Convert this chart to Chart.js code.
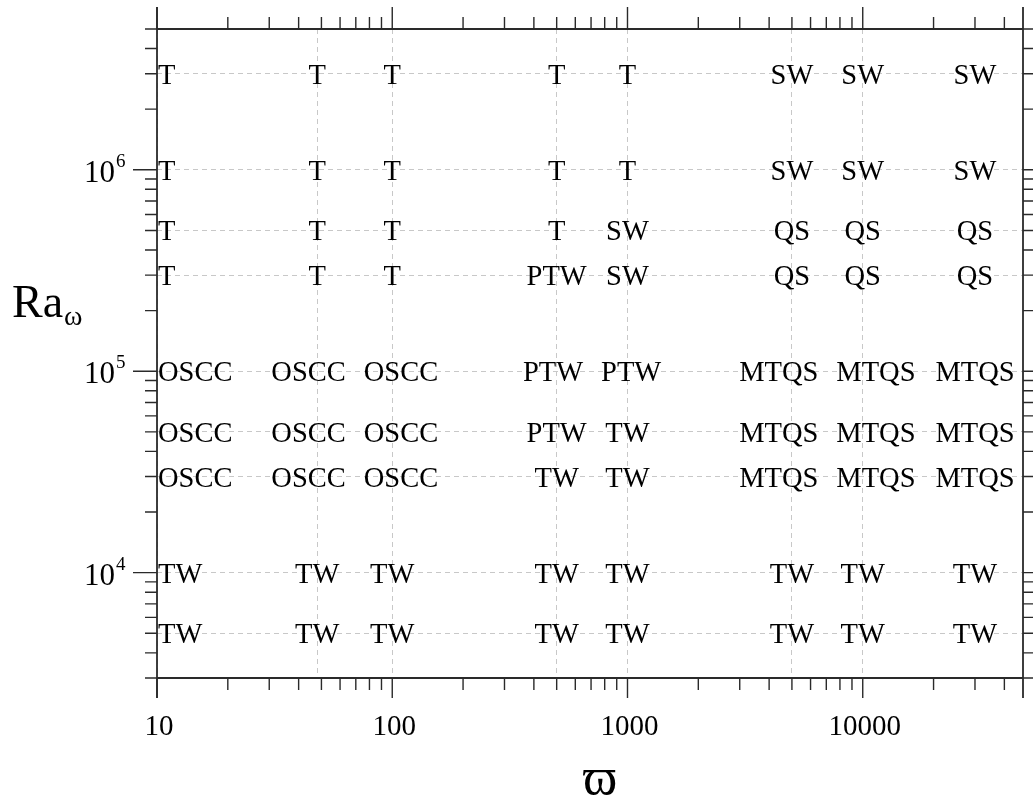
<!DOCTYPE html>
<html lang="en">
<head>
<meta charset="UTF-8">
<title>Flow regimes in the (omega, Ra) plane</title>
<script src="https://cdn.jsdelivr.net/npm/chart.js"></script>
<style>
  html, body { margin: 0; padding: 0; background: #fff; }
  canvas { display: block; }
</style>
</head>
<body>
<canvas id="regimeChart" width="1033" height="798"></canvas>
<script>
// forcing frequency columns and Rayleigh number rows
const omegaValues = [10, 48, 100, 500, 1000, 5000, 10000, 30000];
const raValues = [3e6, 1e6, 5e5, 3e5, 1e5, 5e4, 3e4, 1e4, 5e3];
const regimeRows = [
  ['T', 'T', 'T', 'T', 'T', 'SW', 'SW', 'SW'],
  ['T', 'T', 'T', 'T', 'T', 'SW', 'SW', 'SW'],
  ['T', 'T', 'T', 'T', 'SW', 'QS', 'QS', 'QS'],
  ['T', 'T', 'T', 'PTW', 'SW', 'QS', 'QS', 'QS'],
  ['OSCC', 'OSCC', 'OSCC', 'PTW', 'PTW', 'MTQS', 'MTQS', 'MTQS'],
  ['OSCC', 'OSCC', 'OSCC', 'PTW', 'TW', 'MTQS', 'MTQS', 'MTQS'],
  ['OSCC', 'OSCC', 'OSCC', 'TW', 'TW', 'MTQS', 'MTQS', 'MTQS'],
  ['TW', 'TW', 'TW', 'TW', 'TW', 'TW', 'TW', 'TW'],
  ['TW', 'TW', 'TW', 'TW', 'TW', 'TW', 'TW', 'TW']
];
const omegaGrid = [10, 48, 100, 500, 1000, 5000, 10000];
const raGrid = [5e3, 1e4, 3e4, 5e4, 1e5, 3e5, 5e5, 1e6, 3e6];
const omegaTickLabels = [10, 100, 1000, 10000];
const raTickLabels = [1e4, 1e5, 1e6];
const omegaRange = [10, 48000];
const raRange = [3000, 5e6];

const SERIF = '"Liberation Serif", "DejaVu Serif", serif';

const points = [];
raValues.forEach((ra, r) => {
  omegaValues.forEach((om, c) => {
    points.push({ x: om, y: ra, row: r, label: regimeRows[r][c] });
  });
});

// all 1..9 x 10^n values inside a range, for the axis tick marks
function logTicks(min, max) {
  const out = [];
  for (let e = Math.floor(Math.log10(min)); e <= Math.ceil(Math.log10(max)); e++) {
    for (let m = 1; m <= 9; m++) {
      const v = m * Math.pow(10, e);
      if (v >= min * 0.999 && v <= max * 1.001) out.push({ v: v, major: m === 1 });
    }
  }
  return out;
}

const regimeText = {
  id: 'regimeText',
  afterDatasetsDraw(chart) {
    const ctx = chart.ctx;
    const meta = chart.getDatasetMeta(0);
    const gap = 18;
    ctx.save();
    ctx.fillStyle = '#000';
    ctx.font = '28.5px ' + SERIF;
    ctx.textBaseline = 'alphabetic';
    ctx.textAlign = 'left';

    // label boxes per row; first column sits against the axis
    const rows = raValues.map(() => []);
    meta.data.forEach((el, i) => {
      const p = points[i];
      const w = ctx.measureText(p.label).width;
      const pinned = p.x === omegaRange[0];
      const left = pinned ? el.x + 1 : el.x - w / 2;
      rows[p.row].push({ label: p.label, left: left, w: w, y: el.y, pinned: pinned });
    });

    // push neighbours apart where wide labels would collide
    rows.forEach(row => {
      for (let k = 0; k < row.length - 1; k++) {
        const a = row[k], b = row[k + 1];
        const need = a.left + a.w + gap - b.left;
        if (need > 0) {
          if (a.pinned) { b.left += need; }
          else { a.left -= need / 2; b.left += need / 2; }
        }
      }
      row.forEach(b => ctx.fillText(b.label, b.left, b.y + 10));
    });
    ctx.restore();
  }
};

const frame = {
  id: 'frame',
  afterDraw(chart) {
    const ctx = chart.ctx;
    const xs = chart.scales.x, ys = chart.scales.y;
    const a = chart.chartArea;
    const minorLen = 12, majorLen = 22;
    ctx.save();
    ctx.strokeStyle = '#2a2a2a';
    ctx.lineWidth = 1.8;

    // vertical axis lines run a little past the frame
    ctx.beginPath();
    ctx.moveTo(a.left, a.top - majorLen); ctx.lineTo(a.left, a.bottom + majorLen - 2);
    ctx.moveTo(a.right, a.top - majorLen); ctx.lineTo(a.right, a.bottom + majorLen - 2);
    ctx.moveTo(a.left, a.top); ctx.lineTo(a.right, a.top);
    ctx.moveTo(a.left, a.bottom); ctx.lineTo(a.right, a.bottom);
    ctx.stroke();

    ctx.lineWidth = 1.4;
    ctx.beginPath();
    logTicks(omegaRange[0], omegaRange[1]).forEach(t => {
      const px = xs.getPixelForValue(t.v);
      const len = t.major ? majorLen : minorLen;
      ctx.moveTo(px, a.bottom); ctx.lineTo(px, a.bottom + len - (t.major ? 2 : 0));
      ctx.moveTo(px, a.top); ctx.lineTo(px, a.top - len);
    });
    logTicks(raRange[0], raRange[1]).forEach(t => {
      const py = ys.getPixelForValue(t.v);
      const len = t.major ? majorLen + 2 : minorLen;
      ctx.moveTo(a.left, py); ctx.lineTo(a.left - len, py);
      ctx.moveTo(a.right, py); ctx.lineTo(a.right + len, py);
    });
    ctx.stroke();

    // tick labels
    ctx.fillStyle = '#000';
    ctx.font = '29px ' + SERIF;
    ctx.textAlign = 'center';
    ctx.textBaseline = 'alphabetic';
    omegaTickLabels.forEach(v => {
      ctx.fillText(String(v), xs.getPixelForValue(v) + 2, a.bottom + 57);
    });
    raTickLabels.forEach(v => {
      const py = ys.getPixelForValue(v);
      const exp = Math.round(Math.log10(v));
      ctx.textAlign = 'right';
      ctx.font = '31px ' + SERIF;
      ctx.fillText('10', a.left - 42, py + 12);
      ctx.textAlign = 'left';
      ctx.font = '19px ' + SERIF;
      ctx.fillText(String(exp), a.left - 41, py - 3);
    });

    // axis titles
    ctx.textAlign = 'left';
    ctx.font = '46px ' + SERIF;
    ctx.fillText('Ra', 12, 317);
    const raW = ctx.measureText('Ra').width;
    ctx.font = '28px ' + SERIF;
    ctx.fillText('\u03C9', 12 + raW + 1, 325);

    ctx.textAlign = 'center';
    ctx.font = '52px ' + SERIF;
    ctx.fillText('\u03D6', 600, 794);
    ctx.restore();
  }
};

new Chart(document.getElementById('regimeChart'), {
  type: 'scatter',
  data: {
    datasets: [{
      data: points,
      pointRadius: 0,
      pointHoverRadius: 0,
      showLine: false
    }]
  },
  options: {
    responsive: false,
    animation: false,
    layout: { padding: { top: 29, right: 10, left: 0, bottom: 0 } },
    plugins: { legend: { display: false }, tooltip: { enabled: false } },
    scales: {
      x: {
        type: 'logarithmic',
        position: 'bottom',
        min: omegaRange[0],
        max: omegaRange[1],
        afterBuildTicks: s => { s.ticks = omegaGrid.map(v => ({ value: v })); },
        afterFit: s => { s.height = 120; },
        ticks: { display: false },
        grid: { color: '#c8c8c8', lineWidth: 1, drawTicks: false, borderDash: [5, 4] },
        border: { display: false, dash: [5, 4] }
      },
      y: {
        type: 'logarithmic',
        position: 'left',
        min: raRange[0],
        max: raRange[1],
        afterBuildTicks: s => { s.ticks = raGrid.map(v => ({ value: v })); },
        afterFit: s => { s.width = 157; },
        ticks: { display: false },
        grid: { color: '#c8c8c8', lineWidth: 1, drawTicks: false, borderDash: [5, 4] },
        border: { display: false, dash: [5, 4] }
      }
    }
  },
  plugins: [regimeText, frame]
});
</script>
</body>
</html>
